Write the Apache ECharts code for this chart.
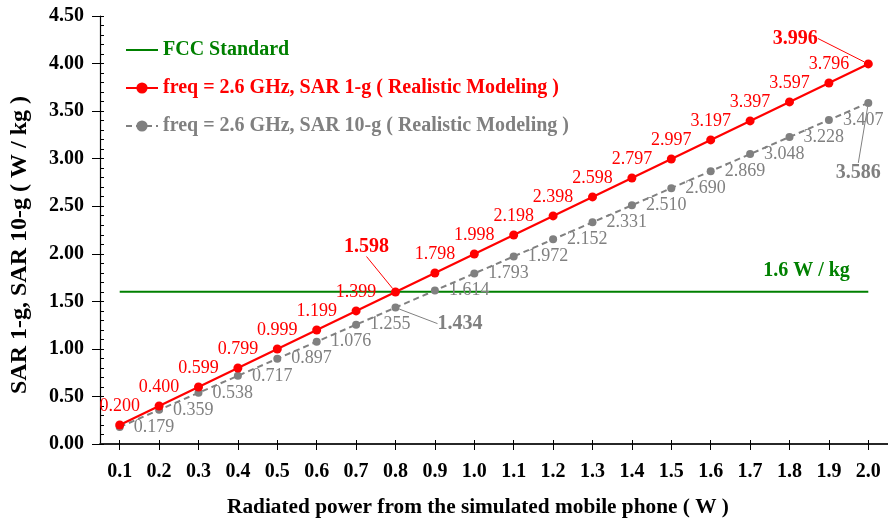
<!DOCTYPE html>
<html><head><meta charset="utf-8">
<script src="https://cdn.jsdelivr.net/npm/echarts@6/dist/echarts.min.js"></script>
<style>html,body{margin:0;padding:0;background:#fff}#c{width:888px;height:527px}</style>
</head><body><div id="c"></div>
<script>
const categories = ['0.1','0.2','0.3','0.4','0.5','0.6','0.7','0.8','0.9','1.0','1.1','1.2','1.3','1.4','1.5','1.6','1.7','1.8','1.9','2.0'];
const sar1g = [0.200,0.400,0.599,0.799,0.999,1.199,1.399,1.598,1.798,1.998,2.198,2.398,2.598,2.797,2.997,3.197,3.397,3.597,3.796,3.996];
const sar10g = [0.179,0.359,0.538,0.717,0.897,1.076,1.255,1.434,1.614,1.793,1.972,2.152,2.331,2.510,2.690,2.869,3.048,3.228,3.407,3.586];
const fccLimit = [1.6,1.6,1.6,1.6,1.6,1.6,1.6,1.6,1.6,1.6,1.6,1.6,1.6,1.6,1.6,1.6,1.6,1.6,1.6,1.6];
const seriesNames = ['FCC Standard','freq = 2.6 GHz, SAR 1-g ( Realistic Modeling )','freq = 2.6 GHz, SAR 10-g ( Realistic Modeling )'];
const fccLabelText = '1.6 W / kg';
const yMin = 0, yMax = 4.5, yStep = 0.5;

const FONT = "'Liberation Serif','Times New Roman',serif";
const RED = '#ff0000', GRAY = '#808080', GREEN = '#008000';

function boldLabel(color, position) {
  return { label: { show: true, position: position, fontSize: 20, fontWeight: 'bold', color: color },
           labelLine: { show: true, lineStyle: { color: color, width: 1 } } };
}
const redSpecial = { 7: boldLabel(RED, 'top'), 19: boldLabel(RED, 'top') };
const graySpecial = { 7: boldLabel(GRAY, 'right'), 19: boldLabel(GRAY, 'bottom') };
const redMoves = { 7: [-29, -26], 19: [-73, -6] };
const grayMoves = { 7: [28, 16], 19: [-10, 46] };
function build(values, special) {
  return values.map((v, i) => special[i] ? Object.assign({ value: v }, special[i]) : v);
}
function mover(moves) {
  return function (p) {
    const m = moves[p.dataIndex];
    return m ? { dx: m[0], dy: m[1] } : {};
  };
}
const fccData = fccLimit.map((v, i) => i === 17 ? {
  value: v,
  label: { show: true, formatter: fccLabelText, position: 'top', offset: [17, -6], fontSize: 20, fontWeight: 'bold', color: GREEN }
} : v);

const chart = echarts.init(document.getElementById('c'));
chart.setOption({
  animation: false,
  textStyle: { fontFamily: FONT },
  grid: { left: 98, top: 16, width: 795, height: 428, containLabel: false },
  legend: {
    orient: 'vertical', left: 120, top: 35, itemGap: 18, itemWidth: 32, itemHeight: 14,
    textStyle: { fontFamily: FONT, fontSize: 20, fontWeight: 'bold' },
    data: [
      { name: seriesNames[0], icon: 'path://M0,0 L32,0 L32,2 L0,2 Z', textStyle: { color: GREEN } },
      { name: seriesNames[1], textStyle: { color: RED } },
      { name: seriesNames[2], textStyle: { color: GRAY } }
    ]
  },
  xAxis: [{
    type: 'category', data: categories, position: 'bottom',
    axisLine: { lineStyle: { color: GRAY, width: 1.5 } },
    axisTick: { show: true, alignWithLabel: true, length: 6, lineStyle: { color: '#000' } },
    axisLabel: { interval: 0, margin: 18, fontFamily: FONT, fontSize: 20, fontWeight: 'bold', color: '#000' },
    name: 'Radiated power from the simulated mobile phone ( W )', nameLocation: 'middle', nameGap: 53,
    nameTextStyle: { fontFamily: FONT, fontSize: 21.3, fontWeight: 'bold', color: '#000', padding: [0, 32, 0, 0] }
  }, {
    type: 'category', data: categories, position: 'top',
    axisLine: { show: true, lineStyle: { color: '#000', width: 1.5 } },
    axisTick: { show: false }, axisLabel: { show: false }
  }, {
    type: 'category', data: categories, position: 'bottom',
    axisLine: { show: false }, axisLabel: { show: false },
    axisTick: { show: true, inside: true, alignWithLabel: true, length: 4, lineStyle: { color: '#000' } }
  }],
  yAxis: [{
    type: 'value', min: yMin, max: yMax, interval: yStep, position: 'left',
    axisLine: { show: true, lineStyle: { color: '#000', width: 1.2 } },
    axisTick: { show: true, length: 8, lineStyle: { color: '#000' } },
    splitLine: { show: false },
    axisLabel: { margin: 16, fontFamily: FONT, fontSize: 20, fontWeight: 'bold', color: '#000', formatter: v => v.toFixed(2) },
    name: 'SAR 1-g, SAR 10-g ( W / kg )', nameLocation: 'middle', nameGap: 68,
    nameTextStyle: { fontFamily: FONT, fontSize: 24, fontWeight: 'bold', color: '#000', padding: [0, 30, 0, 0] }
  }, {
    type: 'value', min: yMin, max: yMax, interval: yStep, position: 'left',
    axisLine: { show: false }, axisLabel: { show: false }, splitLine: { show: false },
    axisTick: { show: true, inside: true, length: 4, lineStyle: { color: '#000' } },
    minorTick: { show: true, splitNumber: 5, length: 4, lineStyle: { color: '#000' } }
  }],
  series: [{
    name: seriesNames[0], type: 'line', data: fccData, symbol: 'circle', symbolSize: 0, showSymbol: true,
    itemStyle: { color: GREEN }, lineStyle: { color: GREEN, width: 2 }, label: { show: false }, z: 1
  }, {
    name: seriesNames[1], type: 'line', data: build(sar1g, redSpecial), symbol: 'circle', symbolSize: 9,
    itemStyle: { color: RED }, lineStyle: { color: RED, width: 2.2 },
    label: { show: true, position: 'top', distance: 5, fontSize: 18, color: RED, fontFamily: FONT,
             formatter: p => p.value.toFixed(3) },
    labelLayout: mover(redMoves), z: 3
  }, {
    name: seriesNames[2], type: 'line', data: build(sar10g, graySpecial), symbol: 'circle', symbolSize: 8,
    itemStyle: { color: GRAY }, lineStyle: { color: GRAY, width: 2, type: [6, 4] },
    label: { show: true, position: 'right', distance: 10, offset: [0, 3], fontSize: 18, color: GRAY, fontFamily: FONT,
             formatter: p => p.value.toFixed(3) },
    labelLayout: mover(grayMoves), z: 2
  }]
});
</script></body></html>
